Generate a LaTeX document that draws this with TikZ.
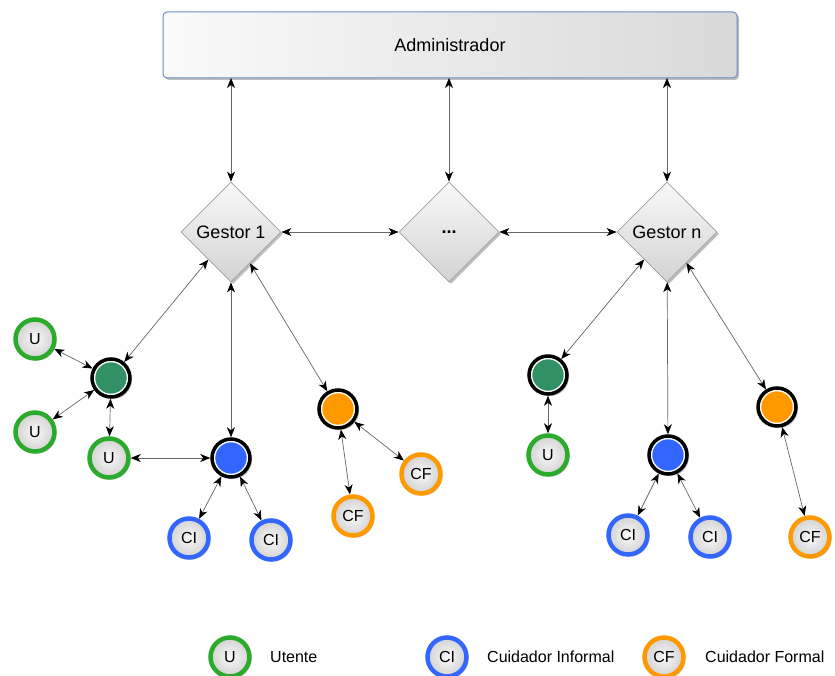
\documentclass[tikz,border=0pt]{standalone}
\usepackage{fontspec}
\setmainfont{Liberation Sans}
\usetikzlibrary{shapes.geometric,arrows.meta,shadows}
\definecolor{ugreen}{RGB}{44,170,44}
\definecolor{hgreen}{RGB}{50,145,100}
\definecolor{cblue}{RGB}{51,102,255}
\definecolor{corange}{RGB}{255,153,0}
\definecolor{adminborder}{RGB}{110,140,200}
\tikzset{
  shd/.style={drop shadow={shadow xshift=2pt,shadow yshift=-2pt,opacity=0.25,fill=black}},
  adminbox/.style={rectangle,rounded corners=4pt,draw=adminborder,line width=1pt,
    left color=gray!4,right color=gray!30,minimum width=574pt,minimum height=66pt,
    font=\fontsize{18}{21}\selectfont,shd},
  gestor/.style={diamond,aspect=1,minimum width=100pt,minimum height=100pt,inner sep=0pt,
    draw=gray!75,line width=0.8pt,top color=gray!5,bottom color=gray!35,
    font=\fontsize{18}{21}\selectfont,shd},
  leaf/.style={circle,minimum size=39pt,inner sep=0pt,line width=4.5pt,
    inner color=gray!5,outer color=gray!35,font=\fontsize{16}{19}\selectfont,shd},
  uleaf/.style={leaf,draw=ugreen},
  cileaf/.style={leaf,draw=cblue},
  cfleaf/.style={leaf,draw=corange},
  hub/.style={circle,minimum size=38pt,inner sep=0pt,line width=3.5pt,draw=black,fill=#1,
    path picture={\draw[white,line width=1.5pt] (path picture bounding box.center) circle (16.5pt);},shd},
  conn/.style={draw=black!60,line width=0.7pt,
    {Stealth[length=10pt,width=8pt,inset=3pt,black]}-{Stealth[length=10pt,width=8pt,inset=3pt,black]}},
  legtext/.style={anchor=west,font=\fontsize{16}{19}\selectfont,inner sep=0pt}
}
\begin{document}
\begin{tikzpicture}[x=1pt,y=-1pt]
\useasboundingbox (0,0) rectangle (835,676);
% top
\node[adminbox] (admin) at (450,45) {Administrador};
\node[gestor] (g1) at (231,232) {Gestor 1};
\node[gestor] (gd) at (449,232) {\textbf{...}};
\node[gestor] (gn) at (667,232) {Gestor n};
\coordinate (a1) at (231,78);
\coordinate (a2) at (449,78);
\coordinate (a3) at (667,78);
% left group
\node[hub=hgreen] (hgL) at (111,378) {};
\node[hub=cblue] (hbL) at (231,458) {};
\node[hub=corange] (hoL) at (338,409) {};
\node[uleaf] (u1) at (35,339) {U};
\node[uleaf] (u2) at (35,432) {U};
\node[uleaf] (u3) at (109,458) {U};
\node[cileaf] (ci1) at (189,538) {CI};
\node[cileaf] (ci2) at (271,540) {CI};
\node[cfleaf] (cf1) at (421,474) {CF};
\node[cfleaf] (cf2) at (353,516) {CF};
% right group
\node[hub=hgreen] (hgR) at (548,375) {};
\node[hub=cblue] (hbR) at (668,455) {};
\node[hub=corange] (hoR) at (777,407) {};
\node[uleaf] (u4) at (548,455) {U};
\node[cileaf] (ci3) at (628,535) {CI};
\node[cileaf] (ci4) at (710,537) {CI};
\node[cfleaf] (cf3) at (810,537) {CF};
% legend
\node[uleaf] (lu) at (230,657) {U};
\node[legtext] (lut) at (270,657) {Utente};
\node[cileaf] (lci) at (447,657) {CI};
\node[legtext] (lcit) at (487,657) {Cuidador Informal};
\node[cfleaf] (lcf) at (664,657) {CF};
\node[legtext] (lcft) at (705,657) {Cuidador Formal};
% connectors
\draw[conn] (a1) -- (g1);
\draw[conn] (a2) -- (gd);
\draw[conn] (a3) -- (gn);
\draw[conn] (g1) -- (gd);
\draw[conn] (gd) -- (gn);
\draw[conn] (g1) -- (hgL);
\draw[conn] (g1) -- (hbL);
\draw[conn] (g1) -- (hoL);
\draw[conn] (hgL) -- (u1);
\draw[conn] (hgL) -- (u2);
\draw[conn] (hgL) -- (u3);
\draw[conn] (u3) -- (hbL);
\draw[conn] (hbL) -- (ci1);
\draw[conn] (hbL) -- (ci2);
\draw[conn] (hoL) -- (cf1);
\draw[conn] (hoL) -- (cf2);
\draw[conn] (gn) -- (hgR);
\draw[conn] (gn) -- (hbR);
\draw[conn] (gn) -- (hoR);
\draw[conn] (hgR) -- (u4);
\draw[conn] (hbR) -- (ci3);
\draw[conn] (hbR) -- (ci4);
\draw[conn] (hoR) -- (cf3);
\end{tikzpicture}
\end{document}
